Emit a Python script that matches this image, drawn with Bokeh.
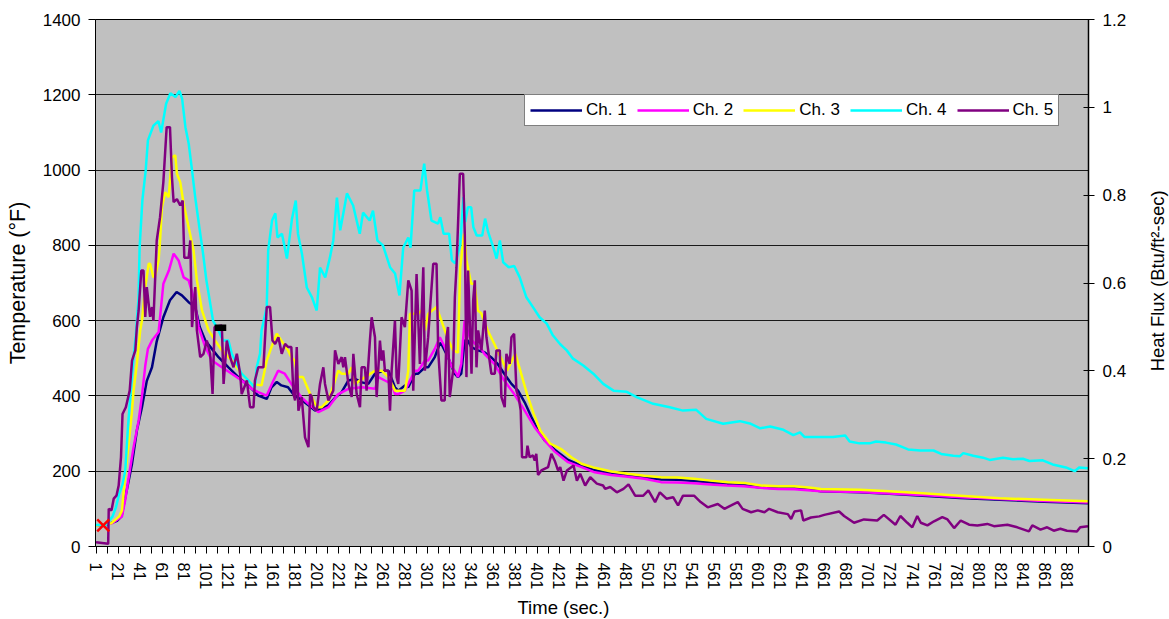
import math
from bokeh.plotting import figure
from bokeh.layouts import row
from bokeh.models import (Range1d, LinearAxis, FixedTicker, NumeralTickFormatter,
                          Legend, LegendItem, Title, Label)
from bokeh.embed import file_html
from bokeh.resources import INLINE

FONT = "Liberation Sans"

# ---------------- data ----------------
series_names = ["Ch. 1", "Ch. 2", "Ch. 3", "Ch. 4", "Ch. 5"]
series_colors = ["#000080", "#FF00FF", "#FFFF00", "#00FFFF", "#800080"]

# (time in s, temperature in degF)
ch1_points = [(1, 55), (10, 57), (20, 68), (24, 80), (30.6, 175), (33.6, 220), (38, 308), (42.6, 370),
              (47, 440), (51.7, 476), (56, 545), (62, 609), (68, 654), (74, 676), (78.8, 667),
              (84.9, 649), (90.9, 636), (95, 583), (100, 547), (106, 525), (112, 503), (121, 476),
              (130, 450), (139, 428), (148, 401), (155.7, 392), (160, 423), (164.8, 437), (169, 428),
              (175, 423), (181, 400), (187, 390), (193.5, 375), (199.5, 361), (205.5, 366),
              (211.6, 375), (217.6, 395), (223.6, 410), (229.7, 441), (235.7, 445), (242, 436),
              (247.8, 432), (253.8, 459), (256.8, 463), (262.8, 467), (266, 467), (271.9, 423),
              (275, 414), (281, 428), (284, 423), (290, 459), (293, 459), (299, 476), (302, 476),
              (308, 503), (312.6, 540), (314, 538), (320, 503), (326, 459), (329, 450), (332, 459),
              (335, 547), (338, 547), (341, 530), (347, 521), (353, 516), (359, 503), (365, 485),
              (371, 459), (377.5, 432), (383.5, 414), (389.5, 383), (395.6, 344), (401.6, 308),
              (407.6, 282), (416.7, 257), (428.8, 230), (441, 215), (453, 203), (468, 194),
              (483, 188), (498, 183), (513, 178), (528, 177), (543, 174), (558, 170), (573.6, 166),
              (588.6, 163), (603, 157), (619, 155), (634, 154), (649, 151), (658, 147), (693, 144),
              (720, 140), (754, 134), (784, 129), (820, 124), (860, 119), (900, 115)]

ch2_points = [(1, 55), (15.5, 62), (24.5, 80), (27.5, 125), (30.6, 184), (35, 264), (39.6, 335),
              (42.6, 400), (45.6, 480), (48, 525), (51.7, 547), (57.7, 570), (62, 698), (67, 733),
              (71.3, 778), (75.8, 760), (80.4, 715), (84.9, 707), (89.4, 662), (94, 583), (100, 530),
              (106, 494), (115, 476), (124, 459), (133, 441), (142, 419), (148, 410), (155.7, 401),
              (161.8, 441), (166, 467), (172, 459), (178, 432), (187, 397), (193.5, 379),
              (202.5, 357), (211.6, 370), (220.6, 405), (229.7, 419), (241.7, 423), (254, 419),
              (256.8, 450), (262.8, 441), (268.9, 432), (272, 405), (275, 405), (281, 414),
              (284, 432), (290, 467), (293, 467), (299, 494), (302, 494), (308, 525), (312.6, 556),
              (317, 530), (323, 480), (327.7, 459), (329, 450), (332, 485), (335, 600),
              (339.7, 556), (344, 540), (350, 525), (353, 512), (362, 485), (371, 441), (380, 405),
              (389.5, 361), (398.5, 317), (407.6, 282), (416.7, 252), (428.8, 224), (441, 211),
              (453, 197), (468, 190), (483, 185), (498, 180), (513, 171), (528, 170), (543, 168),
              (558, 165), (573, 162), (588, 160), (603, 156), (619, 153), (634, 152), (649, 149),
              (658, 147), (693, 145), (720, 141), (754, 136), (784, 131), (820, 126), (860, 121),
              (900, 117)]

ch3_points = [(1, 55), (15, 62), (22, 80), (24.5, 96), (27.5, 193), (30.6, 273), (33.6, 361),
              (35, 414), (38, 485), (41, 574), (42.6, 600), (45.6, 689), (48.7, 751), (50, 751),
              (53, 715), (55, 724), (57.7, 760), (59, 813), (60.7, 901), (63.7, 941), (66.8, 928),
              (69.8, 1034), (72.8, 1039), (74.3, 990), (77.3, 968), (80.4, 910), (84.9, 848),
              (89.4, 786), (92.4, 707), (97, 627), (103, 574), (109, 547), (115, 521), (124, 494),
              (133, 459), (142, 432), (151, 428), (155.7, 494), (160, 530), (164.8, 565),
              (169, 547), (175, 521), (178, 503), (181, 494), (184, 450), (188.6, 450), (195, 405),
              (199.5, 379), (202.5, 370), (205.5, 370), (211.6, 388), (217.6, 441), (220.6, 467),
              (223.6, 459), (229.7, 459), (232.7, 476), (235.7, 432), (244.7, 450), (253.8, 467),
              (259.8, 467), (266, 450), (272, 414), (281, 414), (284, 467), (285.5, 618),
              (293, 618), (296, 627), (299, 574), (302, 618), (309.6, 636), (314, 600), (320, 550),
              (324.7, 521), (329, 515), (331, 740), (334.6, 831), (336.7, 760), (341, 698),
              (344, 698), (347, 627), (350, 620), (356, 574), (362, 538), (367.6, 503),
              (373.5, 467), (381, 512), (385.5, 467), (391.6, 405), (397.6, 353), (403.6, 308),
              (412.7, 273), (423, 258), (431.8, 237), (441, 220), (453, 209), (468, 199),
              (483, 193), (498, 188), (513, 184), (528, 183), (543, 180), (558, 175), (573.6, 171),
              (588.6, 169), (603.7, 162), (618.8, 160), (634, 160), (649, 156), (658, 153),
              (693, 151), (720, 147), (754, 141), (784, 135), (820, 128), (860, 124), (900, 120)]

ch4_points = [(1, 57), (10, 58), (16, 80), (19, 104), (22, 140), (25, 165), (27.5, 202), (30, 320),
              (32, 397), (35, 503), (37, 560), (39.5, 660), (40.5, 795), (43, 920), (46, 999),
              (48, 1079), (53, 1118), (57.5, 1130), (60, 1100), (64.5, 1176), (68.4, 1204),
              (73, 1194), (76.6, 1210), (79, 1190), (82, 1114), (85, 1070), (88, 999), (91, 925),
              (95, 840), (98, 778), (101, 707), (104, 654), (107, 600), (112, 574), (116, 547),
              (121, 547), (124, 512), (128.6, 485), (133, 459), (139, 441), (145, 423),
              (146.6, 476), (149.6, 512), (151, 574), (155.7, 636), (157, 786), (160.5, 866),
              (163.5, 885), (165.4, 821), (169.5, 831), (174, 765), (178.6, 871), (182, 919),
              (184, 831), (187.6, 778), (192, 688), (196.7, 662), (201, 627), (204, 741),
              (208.7, 715), (213, 768), (216, 813), (219.3, 927), (222.3, 840), (228.4, 938),
              (234, 906), (240, 831), (243, 887), (249, 866), (252, 892), (256, 813), (261, 800),
              (267.6, 741), (272, 725), (276, 667), (279.4, 794), (284, 821), (286, 794),
              (289.4, 946), (295, 946), (298.4, 1017), (301, 946), (305, 866), (311, 858),
              (313, 875), (316, 831), (321, 831), (323.5, 760), (326.5, 752), (331, 800),
              (334, 928), (335.5, 862), (338, 901), (341, 901), (343, 848), (346, 826), (351, 826),
              (353.6, 871), (356.4, 835), (361, 795), (364, 765), (367, 813), (370, 755),
              (375, 742), (380, 745), (385, 715), (391, 662), (397, 636), (403, 609),
              (409.5, 592), (415, 561), (421.5, 538), (427.6, 521), (433.3, 499), (442.6, 481),
              (451.7, 459), (460.7, 432), (470, 414), (482, 411), (491, 397), (506, 379),
              (521, 370), (533, 361), (545, 363), (554, 339), (569.4, 326), (584.5, 333),
              (593.6, 327), (603, 314), (612, 319), (624, 310), (633, 296), (639, 303), (643, 291),
              (657, 291), (669, 291), (680, 295), (684, 279), (693, 274), (702, 274), (708, 279),
              (717, 276), (726, 271), (732, 264), (737, 258), (748, 255), (760, 255), (767, 246),
              (778, 241), (784, 240), (787, 248), (796, 241), (805, 236), (811, 230), (823, 236),
              (832, 232), (841, 233), (847, 227), (859, 229), (868, 218), (880, 210), (888, 200),
              (892, 210), (900, 208)]

ch5_points = [(1, 11), (12, 7), (12.5, 100), (15, 96), (17, 127), (19.5, 135), (21.5, 162),
              (23.6, 237), (25, 352), (28, 370), (31.5, 414), (33.6, 494), (36.6, 521), (38, 583),
              (39.6, 627), (42, 733), (44, 733), (45.6, 610), (47, 689), (50, 610), (51.7, 636),
              (53, 600), (56, 813), (59, 875), (62, 968), (65, 1114), (68, 1114), (69.8, 981),
              (71.3, 915), (74.3, 923), (77.3, 906), (79.5, 919), (81, 767), (84.9, 767),
              (86.4, 813), (88, 583), (90.9, 689), (92.4, 574), (95.4, 503), (98.4, 512),
              (101.4, 547), (104.4, 512), (106.6, 405), (108.4, 583), (115, 587), (116.6, 432),
              (119.5, 547), (122.5, 503), (125.6, 476), (128.6, 512), (131.6, 459), (133, 405),
              (137.7, 441), (140.6, 370), (143.7, 370), (145, 441), (148, 476), (152.7, 476),
              (155.7, 636), (158.7, 636), (160.9, 547), (163.3, 538), (166.3, 556), (169.3, 512),
              (172.3, 538), (175, 530), (178, 530), (179.9, 405), (181.4, 388), (182.9, 530),
              (184.4, 361), (187.4, 397), (190.4, 290), (193.5, 264), (195, 405), (196.5, 397),
              (198, 370), (201, 361), (204, 432), (207, 476), (208.5, 432), (211.6, 388),
              (216, 414), (217.6, 521), (220.6, 485), (223.6, 503), (225.1, 476), (226.6, 503),
              (229.7, 432), (232.7, 397), (234.2, 512), (237.2, 405), (240.2, 370), (241.7, 476),
              (244.7, 476), (246.2, 414), (249.2, 547), (250.8, 609), (253.8, 556), (255.3, 397),
              (258.3, 547), (259.8, 494), (261.3, 521), (262.8, 467), (265.9, 467), (267.4, 361),
              (268.9, 467), (271.9, 600), (273.4, 450), (274.9, 432), (277.9, 609), (280.9, 583),
              (284, 707), (287, 680), (288.5, 414), (291.5, 724), (294.5, 485), (297.6, 742),
              (299, 467), (302, 556), (303.6, 627), (306.6, 751), (309.6, 751), (311.1, 521),
              (314, 388), (317, 388), (318.6, 556), (320, 583), (321.6, 397), (324.6, 467),
              (326.2, 662), (327.7, 742), (330.7, 990), (333.7, 990), (335.2, 830), (336.7, 450),
              (338.2, 733), (341.3, 459), (342.8, 654), (344.3, 707), (345.8, 476), (347.3, 574),
              (350.3, 521), (353.3, 627), (354.8, 556), (359.3, 459), (362.4, 459), (363.9, 521),
              (366.9, 521), (368.4, 397), (371.4, 370), (372.9, 512), (375.9, 485), (377.5, 556),
              (379.9, 565), (382, 414), (384, 397), (385.9, 361), (387.1, 237), (391, 237),
              (392, 268), (394, 237), (397, 242), (398.6, 228), (400, 246), (401.6, 190),
              (404.6, 202), (410.7, 211), (413.7, 246), (416.7, 228), (419.7, 202), (421.7, 211),
              (424.7, 175), (427.8, 202), (433.8, 215), (436.8, 175), (439.8, 193), (444.3, 162),
              (448.9, 184), (454.9, 167), (460.5, 162), (462.4, 153), (467, 158), (473, 144),
              (479, 153), (483.6, 165), (489.6, 135), (497, 135), (501.6, 149), (507.7, 118),
              (512, 144), (518, 127), (524, 131), (528.5, 109), (533, 135), (543, 135), (549, 118),
              (555.4, 104), (564.5, 113), (570.5, 100), (576.6, 109), (582.6, 118), (587, 100),
              (594.7, 91), (600.7, 96), (606.8, 91), (611, 100), (618.8, 91), (628, 86), (631, 73),
              (634, 93), (640, 96), (642, 69), (649, 77), (656.5, 80), (661, 84), (674.5, 93),
              (679, 81), (688, 63), (697, 72), (709, 69), (715, 84), (725.6, 58), (730, 81),
              (736.3, 63), (740.8, 51), (745.3, 81), (748.5, 63), (754.5, 56), (760.5, 67),
              (768, 78), (772.7, 72), (778.7, 49), (784.7, 69), (792.3, 58), (799.8, 56),
              (808.8, 60), (814.8, 54), (827, 58), (836, 51), (846.5, 40), (849.6, 56), (857, 45),
              (863, 51), (869, 42), (875, 47), (881, 42), (890, 40), (893, 51), (900, 54)]

# single heat-flux marker (red x) and a small black mark
flux_mark_t = [7.5]
flux_mark_v = [0.048]
black_mark_t = [108.5, 119]
black_mark_v = [581, 581]

x_tick_labels = ["1", "21", "41", "61", "81", "101", "121", "141", "161", "181", "201", "221",
                 "241", "261", "281", "301", "321", "341", "361", "381", "401", "421", "441",
                 "461", "481", "501", "521", "541", "561", "581", "601", "621", "641", "661",
                 "681", "701", "721", "741", "761", "781", "801", "821", "841", "861", "881"]
temp_ticks = [0, 200, 400, 600, 800, 1000, 1200, 1400]
flux_ticks = [0, 0.2, 0.4, 0.6, 0.8, 1.0, 1.2]

# ---------------- main figure ----------------
p = figure(width=1140, height=619, output_backend="svg", toolbar_location=None,
           x_range=Range1d(0.5, 900.5), y_range=Range1d(0, 1400),
           background_fill_color="#C0C0C0", border_fill_color="white",
           min_border_left=95, min_border_right=52, min_border_top=19, min_border_bottom=73)
p.extra_y_ranges = {"flux": Range1d(0, 1.2)}
p.outline_line_color = "black"
p.outline_line_width = 1

x_tick_values = [int(s) for s in x_tick_labels]
xa = p.xaxis[0]
xa.ticker = FixedTicker(ticks=x_tick_values, minor_ticks=[v + 10 for v in x_tick_values])
xa.major_label_orientation = "vertical"
xa.major_label_text_font = FONT
xa.major_label_text_font_size = "16px"
xa.major_label_text_color = "black"
xa.major_label_standoff = 9
xa.major_tick_in = 0
xa.major_tick_out = 7
xa.minor_tick_in = 0
xa.minor_tick_out = 7
xa.major_tick_line_color = "black"
xa.minor_tick_line_color = "black"
xa.axis_line_color = "black"

ya = p.yaxis[0]
ya.ticker = FixedTicker(ticks=temp_ticks)
ya.major_label_text_font = FONT
ya.major_label_text_font_size = "17px"
ya.major_label_text_color = "black"
ya.major_label_standoff = 8
ya.major_tick_in = 0
ya.major_tick_out = 7
ya.minor_tick_line_color = None
ya.major_tick_line_color = "black"
ya.axis_line_color = "black"
ya.axis_label = "Temperature (°F)"
ya.axis_label_text_font = FONT
ya.axis_label_text_font_size = "21.5px"
ya.axis_label_text_font_style = "normal"
ya.axis_label_text_color = "black"
ya.axis_label_standoff = 10

ra = LinearAxis(y_range_name="flux", ticker=FixedTicker(ticks=flux_ticks),
                formatter=NumeralTickFormatter(format="0.[0]"))
ra.major_label_text_font = FONT
ra.major_label_text_font_size = "17px"
ra.major_label_text_color = "black"
ra.major_label_standoff = 8
ra.major_tick_in = 5
ra.major_tick_out = 6
ra.minor_tick_line_color = None
ra.major_tick_line_color = "black"
ra.axis_line_color = "black"
ra.axis_line_width = 1.5
p.add_layout(ra, "right")

p.xgrid.visible = False
p.ygrid.ticker = FixedTicker(ticks=temp_ticks)
p.ygrid.grid_line_color = "#1a1a1a"
p.ygrid.grid_line_width = 1

# ---------------- series ----------------
all_points = [ch1_points, ch2_points, ch3_points, ch4_points, ch5_points]
items = []
for name, color, pts in zip(series_names, series_colors, all_points):
    ts = [a for a, b in pts]
    vs = [b for a, b in pts]
    r = p.line(ts, vs, line_color=color, line_width=2.5)
    items.append(LegendItem(label=name, renderers=[r]))

p.line(black_mark_t, black_mark_v, line_color="black", line_width=6.5)
p.scatter(flux_mark_t, flux_mark_v, y_range_name="flux", marker="x", size=17,
          line_color="#FF0000", line_width=2.5)

legend = Legend(items=items, location=(429, 420), orientation="horizontal",
                border_line_color="black", border_line_width=1,
                background_fill_color="white", background_fill_alpha=1.0,
                padding=5, spacing=10, margin=0, glyph_width=52, glyph_height=20,
                label_height=20, label_standoff=4,
                label_text_font=FONT, label_text_font_size="17px", label_text_color="black")
p.add_layout(legend)

# x-axis title, shifted left like the reference
p.add_layout(Title(text="Time (sec.)", align="left", offset=422, standoff=4,
                   text_font=FONT, text_font_size="18.5px", text_font_style="normal",
                   text_color="black"), "below")

# ---------------- narrow strip holding the right-hand axis title ----------------
strip = figure(width=29, height=619, output_backend="svg", toolbar_location=None,
               x_range=Range1d(0, 29), y_range=Range1d(0, 619),
               x_axis_location=None, y_axis_location=None,
               min_border_left=0, min_border_right=0, min_border_top=0, min_border_bottom=0,
               background_fill_color="white", border_fill_color="white")
strip.outline_line_color = None
strip.grid.visible = False
strip.add_layout(Label(x=16.5, y=312, angle=math.pi / 2, text="Heat Flux (Btu/ft²-sec)",
                       text_align="center", text_baseline="middle", text_font=FONT,
                       text_font_size="18.5px", text_color="black"))

layout = row(p, strip, spacing=0)
open("out.html", "w").write(file_html(layout, INLINE))
